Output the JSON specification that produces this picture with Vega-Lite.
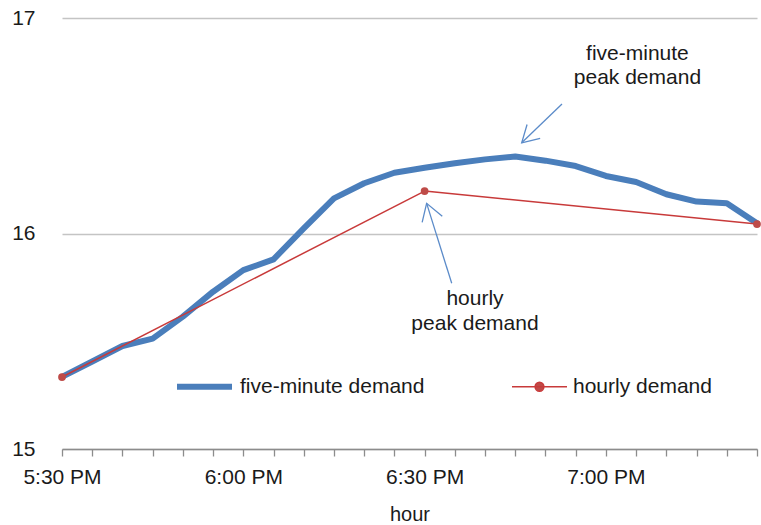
{
  "$schema": "https://vega.github.io/schema/vega-lite/v6.json",
  "autosize": {"type": "none"},
  "padding": {"left": 62, "top": 18, "right": 4, "bottom": 76},
  "width": 695,
  "height": 431,
  "background": "white",
  "config": {
    "font": "Liberation Sans",
    "view": {"stroke": null},
    "axis": {"labelColor": "#1a1a1a", "titleColor": "#1a1a1a", "labelFont": "Liberation Sans", "titleFont": "Liberation Sans"}
  },
  "datasets": {
    "demand": [
      {"time": "2020-01-01T17:30:00Z", "series": "five-minute demand", "demand": 15.335},
      {"time": "2020-01-01T17:35:00Z", "series": "five-minute demand", "demand": 15.406},
      {"time": "2020-01-01T17:40:00Z", "series": "five-minute demand", "demand": 15.478},
      {"time": "2020-01-01T17:45:00Z", "series": "five-minute demand", "demand": 15.512},
      {"time": "2020-01-01T17:50:00Z", "series": "five-minute demand", "demand": 15.614},
      {"time": "2020-01-01T17:55:00Z", "series": "five-minute demand", "demand": 15.73},
      {"time": "2020-01-01T18:00:00Z", "series": "five-minute demand", "demand": 15.83},
      {"time": "2020-01-01T18:05:00Z", "series": "five-minute demand", "demand": 15.88},
      {"time": "2020-01-01T18:10:00Z", "series": "five-minute demand", "demand": 16.024},
      {"time": "2020-01-01T18:15:00Z", "series": "five-minute demand", "demand": 16.163},
      {"time": "2020-01-01T18:20:00Z", "series": "five-minute demand", "demand": 16.233},
      {"time": "2020-01-01T18:25:00Z", "series": "five-minute demand", "demand": 16.282},
      {"time": "2020-01-01T18:30:00Z", "series": "five-minute demand", "demand": 16.305},
      {"time": "2020-01-01T18:35:00Z", "series": "five-minute demand", "demand": 16.326},
      {"time": "2020-01-01T18:40:00Z", "series": "five-minute demand", "demand": 16.344},
      {"time": "2020-01-01T18:45:00Z", "series": "five-minute demand", "demand": 16.357},
      {"time": "2020-01-01T18:50:00Z", "series": "five-minute demand", "demand": 16.338},
      {"time": "2020-01-01T18:55:00Z", "series": "five-minute demand", "demand": 16.313},
      {"time": "2020-01-01T19:00:00Z", "series": "five-minute demand", "demand": 16.267},
      {"time": "2020-01-01T19:05:00Z", "series": "five-minute demand", "demand": 16.239},
      {"time": "2020-01-01T19:10:00Z", "series": "five-minute demand", "demand": 16.182},
      {"time": "2020-01-01T19:15:00Z", "series": "five-minute demand", "demand": 16.148},
      {"time": "2020-01-01T19:20:00Z", "series": "five-minute demand", "demand": 16.14},
      {"time": "2020-01-01T19:25:00Z", "series": "five-minute demand", "demand": 16.047},
      {"time": "2020-01-01T17:30:00Z", "series": "hourly demand", "demand": 15.334},
      {"time": "2020-01-01T18:30:00Z", "series": "hourly demand", "demand": 16.197},
      {"time": "2020-01-01T19:25:00Z", "series": "hourly demand", "demand": 16.044}
    ],
    "arrow1": [
      {"time": "2020-01-01T18:52:44Z", "demand": 16.601, "time2": "2020-01-01T18:46:04Z", "demand2": 16.421}
    ],
    "arrow2": [
      {"time": "2020-01-01T18:34:29Z", "demand": 15.769, "time2": "2020-01-01T18:30:20Z", "demand2": 16.14}
    ],
    "notes": [
      {"time": "2020-01-01T19:05:13Z", "demand": 16.835, "label": ["five-minute", "peak demand"]},
      {"time": "2020-01-01T18:38:20Z", "demand": 15.696, "label": ["hourly", "peak demand"]}
    ]
  },
  "layer": [
    {
      "data": {"name": "demand"},
      "mark": {"type": "line", "strokeJoin": "round", "strokeCap": "round"},
      "encoding": {
        "x": {
          "field": "time", "type": "temporal",
          "scale": {"type": "utc", "nice": false, "domain": [
            {"year": 2020, "month": 1, "date": 1, "hours": 17, "minutes": 30, "utc": true},
            {"year": 2020, "month": 1, "date": 1, "hours": 19, "minutes": 25, "utc": true}
          ]},
          "axis": {
            "title": "hour",
            "titleFontSize": 20, "titleFontWeight": "normal", "titlePadding": 17,
            "tickCount": 40,
            "values": [
              {"year": 2020, "month": 1, "date": 1, "hours": 17, "minutes": 30, "utc": true},
              {"year": 2020, "month": 1, "date": 1, "hours": 17, "minutes": 35, "utc": true},
              {"year": 2020, "month": 1, "date": 1, "hours": 17, "minutes": 40, "utc": true},
              {"year": 2020, "month": 1, "date": 1, "hours": 17, "minutes": 45, "utc": true},
              {"year": 2020, "month": 1, "date": 1, "hours": 17, "minutes": 50, "utc": true},
              {"year": 2020, "month": 1, "date": 1, "hours": 17, "minutes": 55, "utc": true},
              {"year": 2020, "month": 1, "date": 1, "hours": 18, "minutes": 0, "utc": true},
              {"year": 2020, "month": 1, "date": 1, "hours": 18, "minutes": 5, "utc": true},
              {"year": 2020, "month": 1, "date": 1, "hours": 18, "minutes": 10, "utc": true},
              {"year": 2020, "month": 1, "date": 1, "hours": 18, "minutes": 15, "utc": true},
              {"year": 2020, "month": 1, "date": 1, "hours": 18, "minutes": 20, "utc": true},
              {"year": 2020, "month": 1, "date": 1, "hours": 18, "minutes": 25, "utc": true},
              {"year": 2020, "month": 1, "date": 1, "hours": 18, "minutes": 30, "utc": true},
              {"year": 2020, "month": 1, "date": 1, "hours": 18, "minutes": 35, "utc": true},
              {"year": 2020, "month": 1, "date": 1, "hours": 18, "minutes": 40, "utc": true},
              {"year": 2020, "month": 1, "date": 1, "hours": 18, "minutes": 45, "utc": true},
              {"year": 2020, "month": 1, "date": 1, "hours": 18, "minutes": 50, "utc": true},
              {"year": 2020, "month": 1, "date": 1, "hours": 18, "minutes": 55, "utc": true},
              {"year": 2020, "month": 1, "date": 1, "hours": 19, "minutes": 0, "utc": true},
              {"year": 2020, "month": 1, "date": 1, "hours": 19, "minutes": 5, "utc": true},
              {"year": 2020, "month": 1, "date": 1, "hours": 19, "minutes": 10, "utc": true},
              {"year": 2020, "month": 1, "date": 1, "hours": 19, "minutes": 15, "utc": true},
              {"year": 2020, "month": 1, "date": 1, "hours": 19, "minutes": 20, "utc": true},
              {"year": 2020, "month": 1, "date": 1, "hours": 19, "minutes": 25, "utc": true}
            ],
            "labelExpr": "utcminutes(datum.value) % 30 == 0 ? utcFormat(datum.value, '%-I:%M %p') : ''",
            "labelOverlap": false, "labelFlush": false, "labelBound": false,
            "labelFontSize": 21, "labelPadding": 10,
            "grid": false,
            "domainColor": "#8c8c8c", "domainWidth": 1.3,
            "tickColor": "#8c8c8c", "tickSize": 7, "tickWidth": 1.3
          }
        },
        "y": {
          "field": "demand", "type": "quantitative",
          "scale": {"domain": [15, 17], "nice": false, "zero": false},
          "axis": {
            "title": null, "values": [15, 16, 17], "tickCount": 10, "labelExpr": "toString(datum.value)", "grid": true, "gridColor": "#c4c4c4", "gridWidth": 1.3,
            "domain": false, "ticks": false, "labelPadding": 27, "labelFontSize": 21
          }
        },
        "color": {
          "field": "series", "type": "nominal",
          "scale": {"domain": ["five-minute demand", "hourly demand"], "range": ["#4a7ebb", "#c83a3a"]},
          "legend": {
            "title": null, "orient": "none", "legendX": 112, "legendY": 338,
            "direction": "horizontal", "columnPadding": 84, "labelOffset": 5, "labelLimit": 400,
            "labelFontSize": 21, "labelFont": "Liberation Sans", "labelColor": "#1a1a1a",
            "symbolType": "stroke", "symbolSize": 3025,
            "encode": {
              "symbols": {
                "update": {
                  "shape": {"signal": "datum.value === 'hourly demand' ? 'M-1,0L1,0M0.16,0A0.16,0.16,0,1,1,-0.16,0A0.16,0.16,0,1,1,0.16,0Z' : 'stroke'"},
                  "fill": {"signal": "datum.value === 'hourly demand' ? '#be4b48' : 'transparent'"}
                }
              }
            }
          }
        },
        "strokeWidth": {
          "field": "series", "type": "nominal",
          "scale": {"domain": ["five-minute demand", "hourly demand"], "range": [6, 1.5]},
          "legend": null
        }
      }
    },
    {
      "data": {"name": "demand"},
      "transform": [{"filter": "datum.series === 'hourly demand'"}],
      "mark": {"type": "point", "filled": true, "color": "#be4b48", "size": 60, "opacity": 1},
      "encoding": {
        "x": {"field": "time", "type": "temporal"},
        "y": {"field": "demand", "type": "quantitative"}
      }
    },
    {
      "data": {"name": "arrow1"},
      "mark": {"type": "rule", "color": "#5b8bc9", "strokeWidth": 1.3},
      "encoding": {
        "x": {"field": "time", "type": "temporal"},
        "y": {"field": "demand", "type": "quantitative"},
        "x2": {"field": "time2"},
        "y2": {"field": "demand2"}
      }
    },
    {
      "data": {"name": "arrow1"},
      "mark": {"type": "point", "filled": false, "stroke": "#5b8bc9", "strokeWidth": 1.3, "opacity": 1, "size": 500, "shape": "M0.48,-1.63L0,0L1.65,-0.4"},
      "encoding": {
        "x": {"field": "time2", "type": "temporal"},
        "y": {"field": "demand2", "type": "quantitative"}
      }
    },
    {
      "data": {"name": "arrow2"},
      "mark": {"type": "rule", "color": "#5b8bc9", "strokeWidth": 1.3},
      "encoding": {
        "x": {"field": "time", "type": "temporal"},
        "y": {"field": "demand", "type": "quantitative"},
        "x2": {"field": "time2"},
        "y2": {"field": "demand2"}
      }
    },
    {
      "data": {"name": "arrow2"},
      "mark": {"type": "point", "filled": false, "stroke": "#5b8bc9", "strokeWidth": 1.3, "opacity": 1, "size": 500, "shape": "M-0.4,1.7L0,0L1.4,1.15"},
      "encoding": {
        "x": {"field": "time2", "type": "temporal"},
        "y": {"field": "demand2", "type": "quantitative"}
      }
    },
    {
      "data": {"name": "notes"},
      "mark": {"type": "text", "fontSize": 21, "font": "Liberation Sans", "color": "#1a1a1a", "align": "center", "baseline": "middle", "lineHeight": 24.7},
      "encoding": {
        "x": {"field": "time", "type": "temporal"},
        "y": {"field": "demand", "type": "quantitative"},
        "text": {"field": "label"}
      }
    }
  ]
}
